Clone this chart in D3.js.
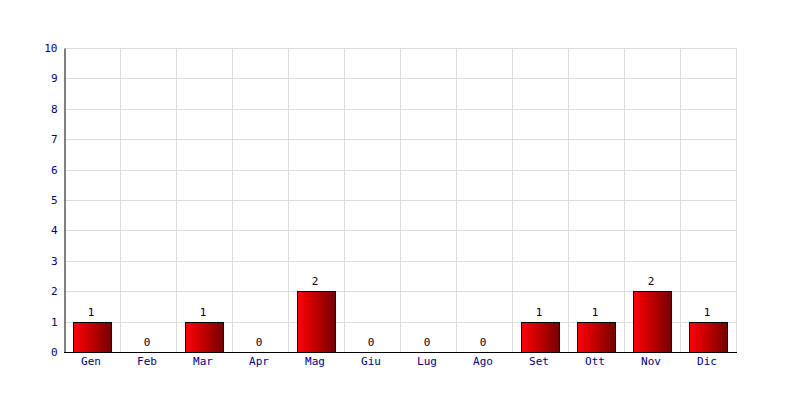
<!DOCTYPE html>
<html><head><meta charset="utf-8">
<script src="https://cdn.jsdelivr.net/npm/d3@7"></script>
<style>body{margin:0;background:#fff}svg{display:block}</style>
</head><body>
<svg id="c" width="800" height="400"></svg>
<script>
const categories = ["Gen","Feb","Mar","Apr","Mag","Giu","Lug","Ago","Set","Ott","Nov","Dic"];
const values = [1,0,1,0,2,0,0,0,1,1,2,1];
const yTicks = [0,1,2,3,4,5,6,7,8,9,10];

const svg = d3.select("#c");
const L = 65, R = 737, T = 48, B = 352;
const x = d3.scaleBand().domain(categories).range([L, R]).paddingInner(0.32).paddingOuter(0.16);
const xg = d3.scaleBand().domain(categories).range([L, R]);
const y = d3.scaleLinear().domain([0, 10]).range([B, T]);
const font = "'DejaVu Sans Mono', monospace";

const defs = svg.append("defs");
const g = defs.append("linearGradient").attr("id","grad").attr("x1","0").attr("x2","1").attr("y1","0").attr("y2","0");
g.append("stop").attr("offset","0%").attr("stop-color","#ff0000");
g.append("stop").attr("offset","100%").attr("stop-color","#780000");

// grid
svg.append("g").selectAll("line").data(yTicks.filter(d=>d>0)).join("line")
  .attr("x1", L).attr("x2", R).attr("y1", d=>Math.round(y(d))+0.5).attr("y2", d=>Math.round(y(d))+0.5)
  .attr("stroke","#dcdcdc").attr("stroke-width",1);
svg.append("g").selectAll("line").data(categories).join("line")
  .attr("x1", d=>Math.round(xg(d)+xg.bandwidth())-0.5).attr("x2", d=>Math.round(xg(d)+xg.bandwidth())-0.5)
  .attr("y1", T).attr("y2", B)
  .attr("stroke","#dcdcdc").attr("stroke-width",1);

// bars
svg.append("g").selectAll("rect").data(values.map((v,i)=>({c:categories[i],v})).filter(d=>d.v>0)).join("rect")
  .attr("x", d=>Math.round(x(d.c))-0.5).attr("width", Math.round(x.bandwidth()))
  .attr("y", d=>Math.round(y(d.v))+0.5).attr("height", d=>Math.round(y(0))-Math.round(y(d.v)))
  .attr("fill","url(#grad)").attr("stroke","#000").attr("stroke-width",1);

// value labels
svg.append("g").selectAll("text").data(values.map((v,i)=>({c:categories[i],v}))).join("text")
  .attr("x", d=>x(d.c)+x.bandwidth()/2-2).attr("y", d=>y(d.v)-6)
  .attr("text-anchor","middle").attr("font-family",font).attr("font-size","11px").attr("fill","#000")
  .text(d=>d.v);

// axes
const yAxis = d3.axisLeft(y).tickValues(yTicks).tickSize(0).tickPadding(7);
const ya = svg.append("g").attr("transform",`translate(${L-0.5},0)`).call(yAxis);
ya.select(".domain").attr("stroke","#000");
ya.selectAll("text").attr("font-family",font).attr("font-size","11px").attr("fill","#000080");

const xAxis = d3.axisBottom(x).tickSize(0).tickPadding(5);
const xa = svg.append("g").attr("transform",`translate(0,${B+0.5})`).call(xAxis);
xa.select(".domain").attr("stroke","#000").attr("d",`M${L-1},0H${R}`);
xa.selectAll(".tick text").attr("dx", -2).attr("font-family",font).attr("font-size","11px").attr("fill","#000080");
</script>
</body></html>
